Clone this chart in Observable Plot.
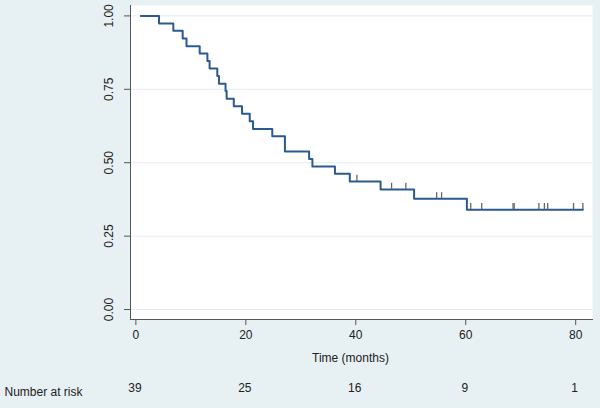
<!DOCTYPE html>
<html><head><meta charset="utf-8">
<script src="https://cdn.jsdelivr.net/npm/d3@7"></script>
<script src="https://cdn.jsdelivr.net/npm/@observablehq/plot@0.6"></script>
<style>html,body{margin:0;padding:0;background:#e7f0f3;} svg{display:block}</style>
</head><body><div id="chart"></div>
<script>
// Kaplan–Meier step points (time in months, survival probability)
const eventTimes = [0, 3.3, 5.9, 7.6, 8.3, 10.7, 12.1, 12.5, 13.9, 14.2, 15.4, 15.6, 16.9, 18.4, 19.8, 20.4, 23.9, 26.2, 30.6, 31.2, 35.3, 38.0, 43.6, 49.7, 59.3, 80.4];
const survival   = [1.000, 0.974, 0.949, 0.923, 0.897, 0.872, 0.846, 0.821, 0.795, 0.769, 0.744, 0.718, 0.692, 0.667, 0.641, 0.615, 0.590, 0.538, 0.513, 0.487, 0.462, 0.436, 0.409, 0.377, 0.340, 0.340];
// Censored observations
const censorTimes    = [39.3, 45.6, 48.2, 53.8, 54.7, 60.0, 62.0, 67.7, 67.9, 72.4, 73.4, 74.0, 78.7, 80.4];
const censorSurvival = [0.436, 0.409, 0.409, 0.377, 0.377, 0.340, 0.340, 0.340, 0.340, 0.340, 0.340, 0.340, 0.340, 0.340];
// Number at risk table
const riskTimes  = [0, 20, 40, 60, 80];
const riskCounts = [39, 25, 16, 9, 1];
// Axis ticks
const xTicks = [0, 20, 40, 60, 80];
const yTicks = [0, 0.25, 0.5, 0.75, 1];

const curve = eventTimes.map((t, i) => ({t, s: survival[i]}));
const censored = censorTimes.map((t, i) => ({t, s: censorSurvival[i]}));
const risk = riskTimes.map((t, i) => ({t, n: riskCounts[i]}));

const chart = Plot.plot({
  width: 600, height: 408,
  marginLeft: 130, marginRight: 8, marginTop: 5, marginBottom: 89,
  style: {background: "#e7f0f3", fontFamily: "'Liberation Sans', Arial, Helvetica, sans-serif", fontSize: "12px", color: "#222"},
  x: {domain: [-1.89, 82.15]},
  y: {domain: [-0.034, 1.0354]},
  marks: [
    Plot.frame({fill: "white", stroke: null}),
    Plot.ruleY(yTicks, {stroke: "#e2edf2", strokeWidth: 1}),
    Plot.frame({anchor: "left", stroke: "#555"}),
    Plot.frame({anchor: "bottom", stroke: "#555"}),
    Plot.axisY({ticks: yTicks, tickFormat: d3.format(".2f"), tickSize: 6, tickPadding: 12, tickRotate: -90, label: null, stroke: "#555", color: "#222"}),
    Plot.axisX({ticks: xTicks, tickSize: 6, tickPadding: 5, label: null, stroke: "#555", dx: -5, color: "#222"}),
    Plot.text(["Time (months)"], {frameAnchor: "bottom", dx: -11, dy: 42, fill: "#222"}),
    Plot.line(curve, {x: "t", y: "s", curve: "step-after", stroke: "#2b5a8e", strokeWidth: 2}),
    Plot.ruleX(censored, {x: "t", y1: "s", y2: d => d.s + 0.021, stroke: "#666", strokeWidth: 1.3}),
    Plot.text(risk, {x: "t", text: "n", frameAnchor: "bottom", dx: -6, dy: 72, fill: "#222"}),
    Plot.text(["Number at risk"], {frameAnchor: "bottom-left", textAnchor: "start", dx: -126, dy: 76, fill: "#222"})
  ]
});
document.getElementById("chart").append(chart);
</script>
</body></html>
